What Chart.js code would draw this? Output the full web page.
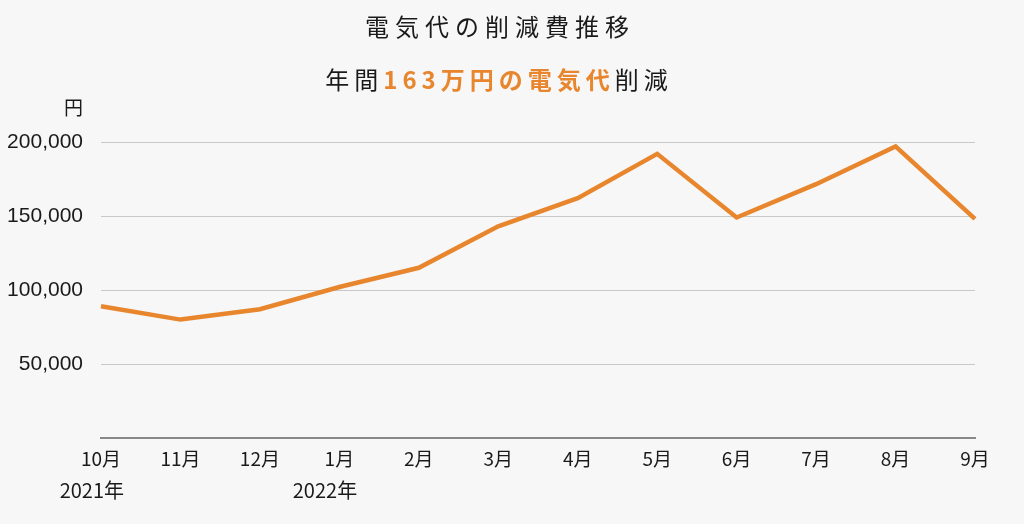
<!DOCTYPE html>
<html>
<head>
<meta charset="utf-8">
<script src="https://cdn.jsdelivr.net/npm/chart.js@4"></script>
<style>
  html, body { margin: 0; padding: 0; background: #f7f7f7; }
  #wrap { width: 1024px; height: 524px; }
</style>
</head>
<body>
<div id="wrap"><canvas id="chart" width="1024" height="524"></canvas></div>
<script>
// data
const months = ["10月", "11月", "12月", "1月", "2月", "3月", "4月", "5月", "6月", "7月", "8月", "9月"];
const years = ["2021年", "", "", "2022年", "", "", "", "", "", "", "", ""];
const costs = [89000, 80000, 87000, 102000, 115000, 143000, 162000, 192000, 149000, 171500, 197000, 148000];
const yTicks = [50000, 100000, 150000, 200000];

const title = "電気代の削減費推移";
const subtitle = [
    { text: "年間", color: "#1a1a1a", bold: false },
    { text: "163万円の電気代", color: "#e8862e", bold: true },
    { text: "削減", color: "#1a1a1a", bold: false },
];
const unit = "円";

const FONT = "'Liberation Sans', 'Noto Sans CJK JP', sans-serif";
const CJK = "'Noto Sans CJK JP', sans-serif";

const extras = {
    id: "extras",
    afterDraw(chart) {
        const ctx = chart.ctx;
        const cx = 497;
        ctx.save();
        ctx.textBaseline = "middle";

        // title
        ctx.fillStyle = "#1a1a1a";
        ctx.font = "24px " + CJK;
        ctx.letterSpacing = "6px";
        ctx.textAlign = "center";
        ctx.fillText(title, cx + 3, 27);

        // subtitle with coloured part
        ctx.letterSpacing = "5px";
        ctx.textAlign = "left";
        let total = 0;
        subtitle.forEach((s) => {
            ctx.font = (s.bold ? "bold " : "") + "24px " + CJK;
            s.w = ctx.measureText(s.text).width;
            total += s.w;
        });
        let x = cx - total / 2 + 2;
        subtitle.forEach((s) => {
            ctx.font = (s.bold ? "bold " : "") + "24px " + CJK;
            ctx.fillStyle = s.color;
            ctx.fillText(s.text, x, 80);
            x += s.w;
        });

        // unit
        ctx.letterSpacing = "0px";
        ctx.font = "19px " + CJK;
        ctx.fillStyle = "#1a1a1a";
        ctx.textAlign = "right";
        ctx.fillText(unit, 83, 108);

        // year labels, right aligned to the month label
        const xs = chart.scales.x;
        ctx.textAlign = "right";
        years.forEach((y, i) => {
            if (!y) return;
            ctx.font = "19px " + CJK;
            const mw = ctx.measureText(months[i]).width;
            ctx.font = "20px " + CJK;
            ctx.fillText(y, xs.getPixelForValue(i) + mw / 2 + 3, 490);
        });
        ctx.restore();
    },
};

new Chart(document.getElementById("chart"), {
    type: "line",
    data: {
        labels: months,
        datasets: [
            {
                data: costs,
                borderColor: "#e8862e",
                borderWidth: 4.5,
                pointRadius: 0,
                fill: false,
                tension: 0,
            },
        ],
    },
    options: {
        responsive: false,
        animation: false,
        layout: { padding: { top: 142, right: 49, left: 0, bottom: 0 } },
        plugins: { legend: { display: false }, tooltip: { enabled: false } },
        scales: {
            x: {
                offset: false,
                grid: { display: false, drawTicks: false },
                border: { color: "#888", width: 2 },
                ticks: { color: "#1a1a1a", font: { family: CJK, size: 19 }, padding: 9, maxRotation: 0 },
                afterFit(scale) { scale.height = 86; },
            },
            y: {
                min: 0,
                max: 200000,
                grid: { color: "#c8c8c8", lineWidth: (c) => (c.tick.value === 0 ? 0 : 1), drawTicks: false },
                border: { display: false },
                afterBuildTicks(scale) { scale.ticks = [0].concat(yTicks).map((v) => ({ value: v })); },
                ticks: {
                    color: "#1a1a1a",
                    font: { family: FONT, size: 21 },
                    padding: 18,
                    callback: (v) => (v === 0 ? "" : v.toLocaleString("en-US")),
                },
                afterFit(scale) { scale.width = 101; },
            },
        },
    },
    plugins: [extras],
});
</script>
</body>
</html>
